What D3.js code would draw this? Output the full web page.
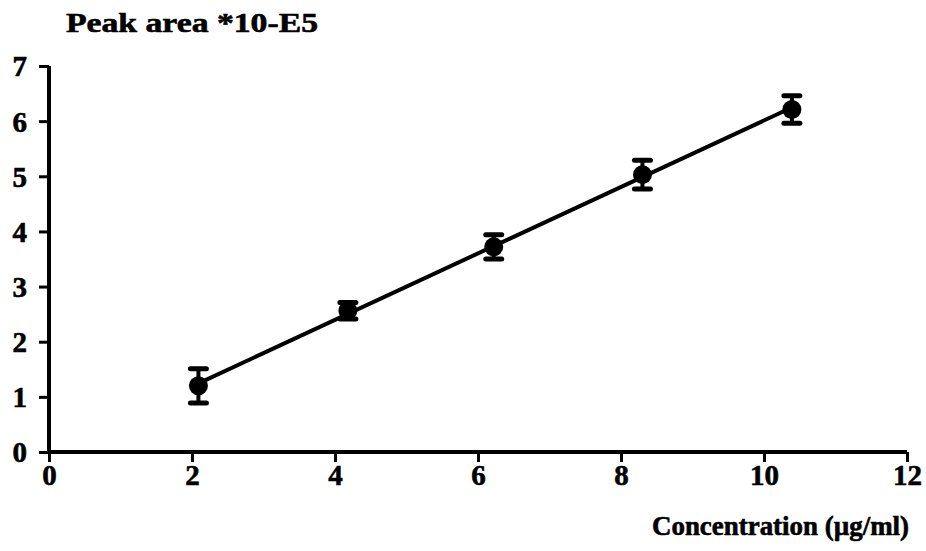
<!DOCTYPE html>
<html>
<head>
<meta charset="utf-8">
<script src="https://cdn.jsdelivr.net/npm/d3@7"></script>
<style>
  html, body { margin: 0; padding: 0; background: #fff; }
  svg { display: block; }
  text { font-family: "Liberation Serif", "Times New Roman", serif; font-weight: bold; fill: #000; stroke: #000; stroke-width: 0.6px; }
</style>
</head>
<body>
<svg id="chart" width="926" height="551"></svg>
<script>
// Calibration data: concentration (µg/ml) vs. peak area (x 10^5)
const concentration = [2.09, 4.18, 6.22, 8.30, 10.39];
const peakArea      = [1.20, 2.56, 3.72, 5.03, 6.21];
const peakAreaSD    = [0.31, 0.15, 0.22, 0.26, 0.25];
const xTicks = [0, 2, 4, 6, 8, 10, 12];
const yTicks = [0, 1, 2, 3, 4, 5, 6, 7];

const svg = d3.select("#chart");
const x = d3.scaleLinear().domain([0, 12]).range([49, 907]);
const y = d3.scaleLinear().domain([0, 7]).range([452, 66]);

// Least-squares calibration line through the measured points
const mx = d3.mean(concentration), my = d3.mean(peakArea);
const sxy = d3.sum(concentration, (c, i) => (c - mx) * (peakArea[i] - my));
const sxx = d3.sum(concentration, c => (c - mx) ** 2);
const slope = sxy / sxx, intercept = my - slope * mx;
const xExtent = d3.extent(concentration);

// Axes
const xAxis = svg.append("g").attr("transform", `translate(0,${y(0)})`)
  .call(d3.axisBottom(x).tickValues(xTicks).tickSize(10).tickFormat(d3.format("d")));
const yAxis = svg.append("g").attr("transform", `translate(${x(0)},0)`)
  .call(d3.axisLeft(y).tickValues(yTicks).tickSize(10).tickFormat(d3.format("d")));

[xAxis, yAxis].forEach(g => {
  g.attr("font-size", null).attr("font-family", null);
  g.select(".domain").attr("stroke", "#000").attr("stroke-width", 4);
  g.selectAll(".tick line").attr("stroke", "#000").attr("stroke-width", 3);
  g.selectAll(".tick text").style("font-size", "29px");
});
// straight axis lines without the outer-tick hooks
xAxis.select(".domain").attr("d", `M${x(0) - 2},0H${x(12)}`);
yAxis.select(".domain").attr("d", `M0,${y(7)}V${y(0) + 2}`);
xAxis.selectAll(".tick text").attr("dy", null).attr("y", 33);
yAxis.selectAll(".tick text").attr("x", -22).attr("dy", "0.34em");

// Fitted line
svg.append("line")
  .attr("x1", x(xExtent[0])).attr("y1", y(intercept + slope * xExtent[0]))
  .attr("x2", x(xExtent[1])).attr("y2", y(intercept + slope * xExtent[1]))
  .attr("stroke", "#000").attr("stroke-width", 4);

// Error bars and markers
const pts = svg.append("g").selectAll("g").data(concentration).join("g");
pts.append("line")
  .attr("x1", d => x(d)).attr("x2", d => x(d))
  .attr("y1", (d, i) => y(peakArea[i] + peakAreaSD[i]))
  .attr("y2", (d, i) => y(peakArea[i] - peakAreaSD[i]))
  .attr("stroke", "#000").attr("stroke-width", 4);
[1, -1].forEach(s => {
  pts.append("line")
    .attr("x1", d => x(d) - 8).attr("x2", d => x(d) + 8)
    .attr("y1", (d, i) => y(peakArea[i] + s * peakAreaSD[i]))
    .attr("y2", (d, i) => y(peakArea[i] + s * peakAreaSD[i]))
    .attr("stroke", "#000").attr("stroke-width", 5).attr("stroke-linecap", "round");
});
pts.append("circle")
  .attr("cx", d => x(d)).attr("cy", (d, i) => y(peakArea[i]))
  .attr("r", 9.5).attr("fill", "#000");

// Axis titles
svg.append("text").attr("x", 66).attr("y", 32)
  .attr("textLength", 252).attr("lengthAdjust", "spacingAndGlyphs")
  .style("font-size", "27px").text("Peak area *10-E5");
svg.append("text").attr("x", 652).attr("y", 535)
  .attr("textLength", 257).attr("lengthAdjust", "spacingAndGlyphs")
  .style("font-size", "27px").text("Concentration (µg/ml)");
</script>
</body>
</html>
